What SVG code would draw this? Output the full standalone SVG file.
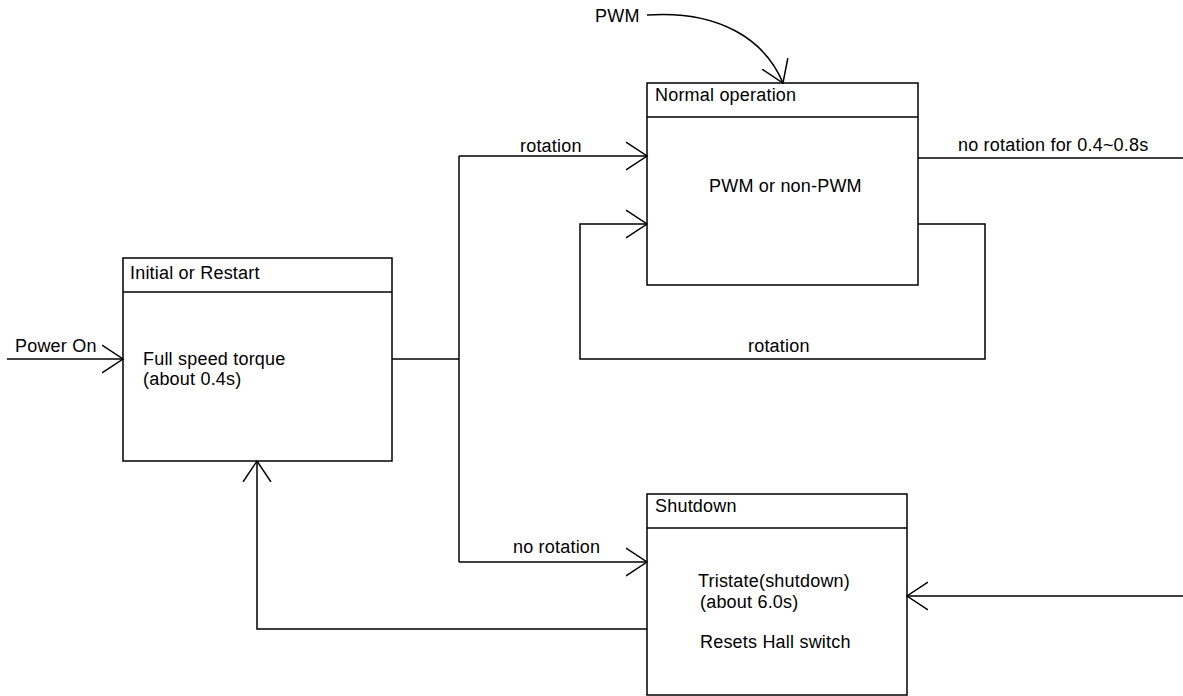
<svg xmlns="http://www.w3.org/2000/svg" width="1183" height="696" viewBox="0 0 1183 696">
<style>
.box{fill:#fff;stroke:#000;stroke-width:1.5}
.ln{fill:none;stroke:#000;stroke-width:1.5}
text{font-family:"Liberation Sans",Arial,sans-serif;font-size:18px;letter-spacing:0.2px;fill:#000}
</style>
<defs>
<marker id="ah" markerWidth="24" markerHeight="30" refX="21" refY="15" orient="auto" markerUnits="userSpaceOnUse">
<path d="M0,1 L21,15 L0,29" fill="none" stroke="#000" stroke-width="1.5"/>
</marker>
</defs>
<rect width="1183" height="696" fill="#fff"/>
<g id="initial">
<rect class="box" x="123" y="258" width="269" height="203"/>
<line class="ln" x1="123" y1="292" x2="392" y2="292"/>
<text x="130" y="279">Initial or Restart</text>
<text x="143" y="365">Full speed torque</text>
<text x="143" y="385">(about 0.4s)</text>
</g>
<g id="normal">
<rect class="box" x="647" y="83" width="271" height="202"/>
<line class="ln" x1="647" y1="117" x2="918" y2="117"/>
<text x="655" y="101">Normal operation</text>
<text x="709" y="192">PWM or non-PWM</text>
</g>
<g id="shutdown">
<rect class="box" x="647" y="494" width="260" height="201"/>
<line class="ln" x1="647" y1="528" x2="907" y2="528"/>
<text x="655" y="512">Shutdown</text>
<text x="698" y="587">Tristate(shutdown)</text>
<text x="700" y="608">(about 6.0s)</text>
<text x="700" y="648">Resets Hall switch</text>
</g>
<g id="connectors">
<path class="ln" d="M7,359 L123,359" marker-end="url(#ah)"/>
<path class="ln" d="M392,359 L459,359"/>
<path class="ln" d="M459,156 L459,562"/>
<path class="ln" d="M459,156 L647,156" marker-end="url(#ah)"/>
<path class="ln" d="M459,562 L647,562" marker-end="url(#ah)"/>
<path class="ln" d="M647,15 C720,10 765,40 783,83" marker-end="url(#ah)"/>
<path class="ln" d="M918,224 L985,224 L985,359 L580,359 L580,224 L647,224" marker-end="url(#ah)"/>
<path class="ln" d="M918,158 L1183,158"/>
<path class="ln" d="M1183,596 L907,596" marker-end="url(#ah)"/>
<path class="ln" d="M647,629 L257,629 L257,461" marker-end="url(#ah)"/>
<text x="15" y="352">Power On</text>
<text x="595" y="22">PWM</text>
<text x="520" y="152">rotation</text>
<text x="748" y="352">rotation</text>
<text x="958" y="151">no rotation for 0.4~0.8s</text>
<text x="513" y="553">no rotation</text>
</g>
</svg>
